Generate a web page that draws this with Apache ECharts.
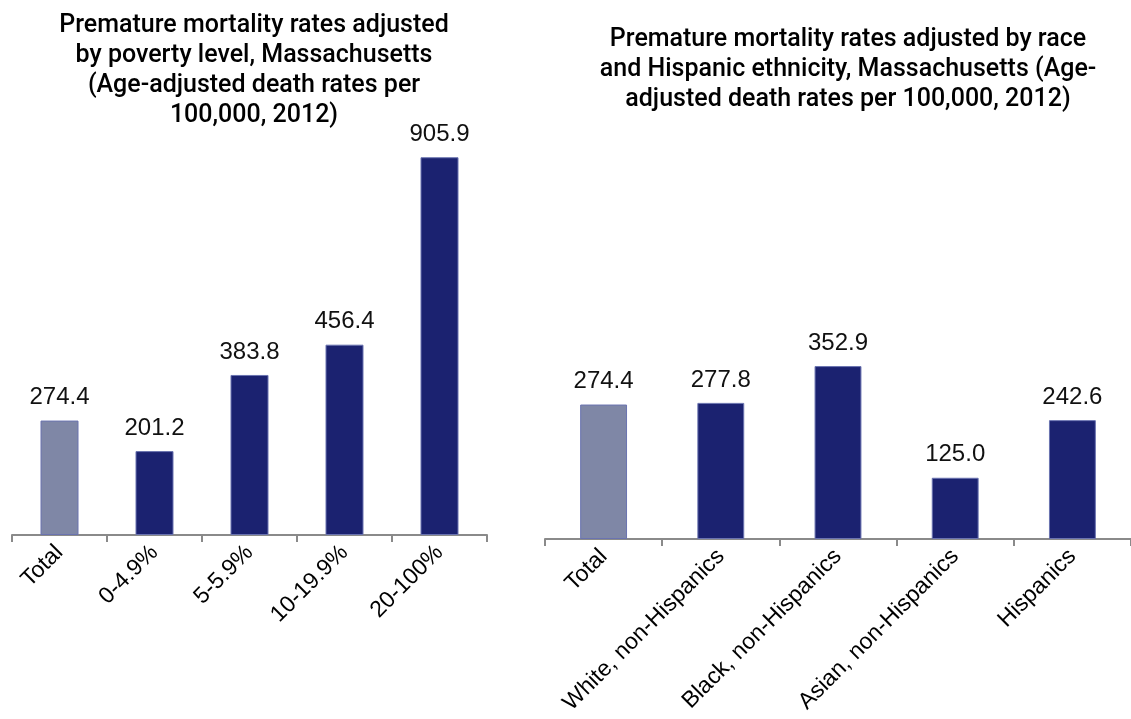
<!DOCTYPE html>
<html>
<head>
<meta charset="utf-8">
<script src="https://cdn.jsdelivr.net/npm/echarts@6/dist/echarts.min.js"></script>
<style>
  html, body { margin: 0; padding: 0; background: #fff; }
  #chart { width: 1131px; height: 719px; }
</style>
</head>
<body>
<div id="chart"></div>
<script>
// poverty level chart
const povertyCats = ["Total", "0-4.9%", "5-5.9%", "10-19.9%", "20-100%"];
const povertyRates = [274.4, 201.2, 383.8, 456.4, 905.9];

// race / ethnicity chart
const raceCats = ["Total", "White, non-Hispanics", "Black, non-Hispanics", "Asian, non-Hispanics", "Hispanics"];
const raceRates = [274.4, 277.8, 352.9, 125.0, 242.6];

const navy = "#1b2270";
const grey = "#7f87a6";
const font = "'Liberation Sans', Arial, sans-serif";

function barColor(p) {
  return p.dataIndex === 0 ? grey : navy;
}

function catAxis(idx, cats) {
  return {
    type: "category",
    gridIndex: idx,
    data: cats,
    axisLine: { lineStyle: { color: "#8a8a8a", width: 2 } },
    axisTick: { show: true, alignWithLabel: false, length: 7, lineStyle: { color: "#8a8a8a", width: 2 } },
    axisLabel: {
      rotate: 45,
      margin: 14,
      color: "#000",
      fontSize: 23,
      fontFamily: font,
      interval: 0,
    },
  };
}

function barSeries(idx, values) {
  return {
    type: "bar",
    xAxisIndex: idx,
    yAxisIndex: idx,
    data: values,
    barWidth: "40%",
    itemStyle: { color: barColor, borderColor: "#6a73b0", borderWidth: 1 },
    label: {
      show: true,
      position: "top",
      distance: 11,
      color: "#111",
      fontSize: 24,
      fontFamily: font,
      formatter: (p) => p.value.toFixed(1),
    },
  };
}

const titleStyle = { fontFamily: "Roboto, sans-serif", fontWeight: 500, fontSize: 25, lineHeight: 30, color: "#000" };

const chart = echarts.init(document.getElementById("chart"));
chart.setOption({
  backgroundColor: "#fff",
  animation: false,
  title: [
    {
      text: "Premature mortality rates adjusted\nby poverty level, Massachusetts\n(Age-adjusted death rates per\n100,000, 2012)",
      left: 249,
      top: 6,
      textAlign: "center",
      textStyle: titleStyle,
    },
    {
      text: "Premature mortality rates adjusted by race\nand Hispanic ethnicity, Massachusetts (Age-\nadjusted death rates per 100,000, 2012)",
      left: 843,
      top: 20,
      textAlign: "center",
      textStyle: titleStyle,
    },
  ],
  grid: [
    { left: 12, top: 118, width: 475, height: 417 },
    { left: 545, top: 343, width: 595, height: 196 },
  ],
  xAxis: [catAxis(0, povertyCats), catAxis(1, raceCats)],
  yAxis: [
    { type: "value", gridIndex: 0, min: 0, max: 1000, show: false },
    { type: "value", gridIndex: 1, min: 0, max: 400, show: false },
  ],
  series: [barSeries(0, povertyRates), barSeries(1, raceRates)],
});
</script>
</body>
</html>
